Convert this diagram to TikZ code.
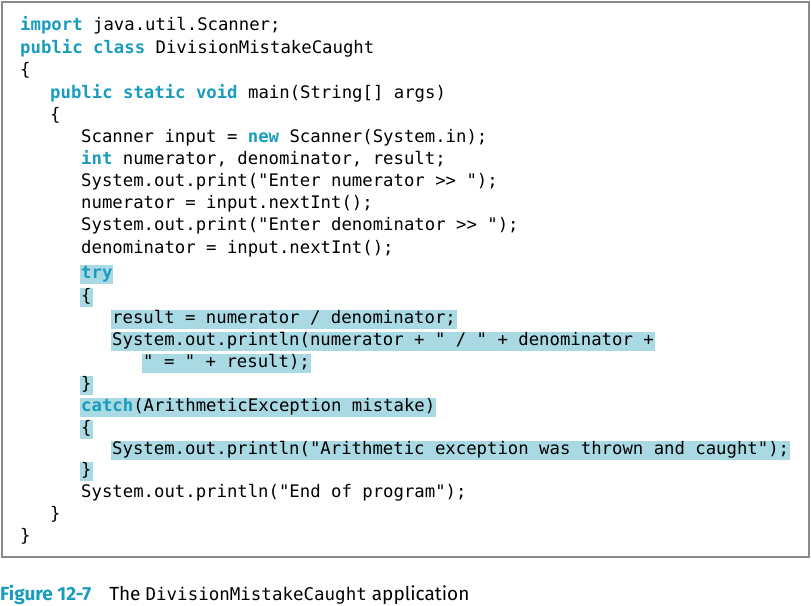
\documentclass[tikz,border=0pt]{standalone}
\usepackage{fontspec}
\newfontfamily\code{DejaVu Sans Mono}
\newfontfamily\capfont{Fira Sans}
\definecolor{kw}{HTML}{1A9CBE}
\definecolor{hl}{HTML}{A9D9E3}
\definecolor{frame}{HTML}{8A8A8A}
\newcommand{\kw}[1]{\textcolor{kw}{\bfseries #1}}
\begin{document}
\begin{tikzpicture}[x=1pt,y=-1pt,
  ln/.style={anchor=base west,inner xsep=1pt,inner ysep=0pt,font=\code\fontsize{17.3}{20}\selectfont,text height=13.5pt,text depth=6pt},
  hln/.style={ln,fill=hl}]
\useasboundingbox (0,0) rectangle (811,605);
\draw[frame,line width=1.5pt] (2,2) rectangle (809,557);
\node[ln] (l1) at (19,30) {\kw{import} java.util.Scanner;};
\node[ln] (l2) at (19,53) {\kw{public class} DivisionMistakeCaught};
\node[ln] (l3) at (19,75) {\{};
\node[ln] (l4) at (49,98) {\kw{public static void} main(String[] args)};
\node[ln] (l5) at (49,120) {\{};
\node[ln] (l6) at (80,142) {Scanner input = \kw{new} Scanner(System.in);};
\node[ln] (l7) at (80,164) {\kw{int} numerator, denominator, result;};
\node[ln] (l8) at (80,186) {System.out.print("Enter numerator >> ");};
\node[ln] (l9) at (80,208) {numerator = input.nextInt();};
\node[ln] (l10) at (80,230) {System.out.print("Enter denominator >> ");};
\node[ln] (l11) at (80,253) {denominator = input.nextInt();};
\node[hln] (l12) at (80,278) {\kw{try}};
\node[hln] (l13) at (80,301) {\{};
\node[hln] (l14) at (111,323) {result = numerator / denominator;};
\node[hln] (l15) at (111,345) {System.out.println(numerator + " / " + denominator +};
\node[hln] (l16) at (142,367) {" = " + result);};
\node[hln] (l17) at (80,389) {\}};
\node[hln] (l18) at (80,411) {\kw{catch}(ArithmeticException mistake)};
\node[hln] (l19) at (80,433) {\{};
\node[hln] (l20) at (111,454) {System.out.println("Arithmetic exception was thrown and caught");};
\node[hln] (l21) at (80,475) {\}};
\node[ln] (l22) at (80,497) {System.out.println("End of program");};
\node[ln] (l23) at (49,519) {\}};
\node[ln] (l24) at (19,541) {\}};
\node[anchor=base west,inner sep=0pt,font=\capfont\fontsize{19}{22}\selectfont] (cap) at (0,600)
  {\textcolor{kw}{\bfseries Figure 12-7}\hspace{18pt}The {\code\fontsize{17.5}{22}\selectfont DivisionMistakeCaught} application};
\end{tikzpicture}
\end{document}
